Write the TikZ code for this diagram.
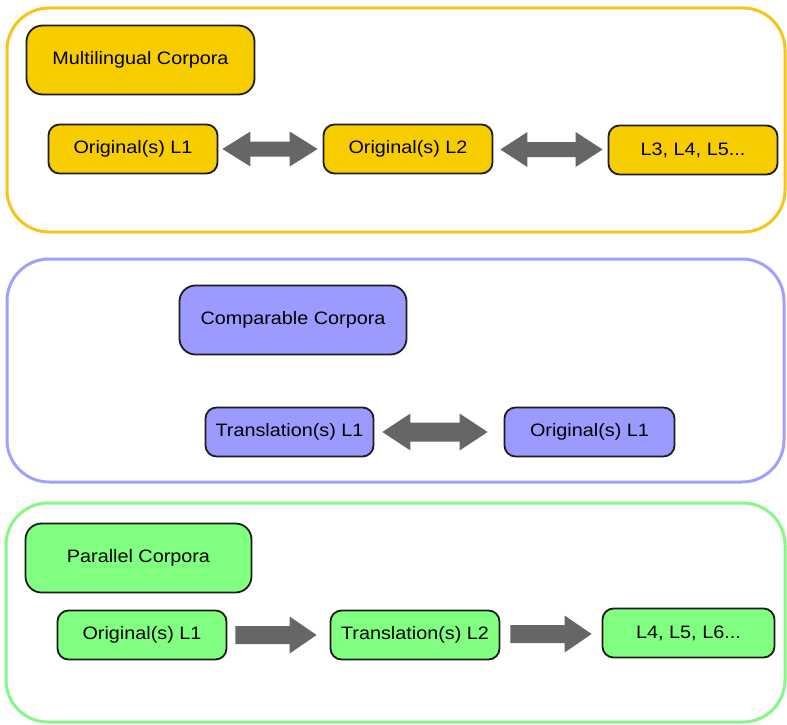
\documentclass[tikz,border=0pt]{standalone}
\usepackage{fontspec}
\setmainfont{Liberation Sans}[FakeStretch=1.1]
\usetikzlibrary{calc}
\definecolor{yfill}{HTML}{F8CD00}
\definecolor{yline}{HTML}{F6C51A}
\definecolor{pfill}{HTML}{9B9BFF}
\definecolor{pline}{HTML}{A0A0FF}
\definecolor{gfill}{HTML}{80FF80}
\definecolor{gline}{HTML}{86F886}
\definecolor{arrgray}{HTML}{666666}
\definecolor{edge}{HTML}{1C1C1C}
\tikzset{
  box/.style={draw=edge, line width=1.8pt, rounded corners=11pt, inner sep=0pt,
    font=\fontsize{18}{22}\selectfont, text=black},
  titlebox/.style={box, rounded corners=16pt},
  container/.style={line width=3pt, rounded corners=42pt},
  arr/.style={fill=arrgray, draw=none}
}
% double arrow between two nodes: #1 left node, #2 right node, #3 left gap, #4 right gap, #5 shaft half, #6 head half, #7 head length
\newcommand{\dblarr}[7]{%
  \fill[arr] let \p1=(#1.east), \p2=(#2.west), \n1={(\y1+\y2)/2} in
    (\x1+#3pt,\n1) -- (\x1+#3pt+#7pt,\n1+#6pt) -- (\x1+#3pt+#7pt,\n1+#5pt)
    -- (\x2-#4pt-#7pt,\n1+#5pt) -- (\x2-#4pt-#7pt,\n1+#6pt) -- (\x2-#4pt,\n1)
    -- (\x2-#4pt-#7pt,\n1-#6pt) -- (\x2-#4pt-#7pt,\n1-#5pt)
    -- (\x1+#3pt+#7pt,\n1-#5pt) -- (\x1+#3pt+#7pt,\n1-#6pt) -- cycle;}
\newcommand{\sglarr}[7]{%
  \fill[arr] let \p1=(#1.east), \p2=(#2.west), \n1={(\y1+\y2)/2} in
    (\x1+#3pt,\n1+#5pt) -- (\x2-#4pt-#7pt,\n1+#5pt) -- (\x2-#4pt-#7pt,\n1+#6pt) -- (\x2-#4pt,\n1)
    -- (\x2-#4pt-#7pt,\n1-#6pt) -- (\x2-#4pt-#7pt,\n1-#5pt) -- (\x1+#3pt,\n1-#5pt) -- cycle;}
\begin{document}
\begin{tikzpicture}[x=1pt,y=-1pt]
\useasboundingbox[fill=white] (0,0) rectangle (787,725);

% ---------- Multilingual ----------
\draw[container, draw=yline] (7,8) rectangle (785,232);
\node[titlebox, fill=yfill, minimum width=228pt, minimum height=69pt] (mt) at (140.5,60) {Multilingual Corpora};
\node[box, fill=yfill, minimum width=169pt, minimum height=49pt] (m1) at (133,149) {Original(s) L1};
\node[box, fill=yfill, minimum width=169pt, minimum height=49pt] (m2) at (408,149) {Original(s) L2};
\node[box, fill=yfill, minimum width=169pt, minimum height=49pt] (m3) at (693,150) {L3, L4, L5...};
\dblarr{m1}{m2}{4}{5}{7.5}{17.5}{28}
\dblarr{m2}{m3}{7}{5}{7.5}{17.5}{27}

% ---------- Comparable ----------
\draw[container, draw=pline] (7,259) rectangle (784,482);
\node[titlebox, fill=pfill, minimum width=227pt, minimum height=69pt] (ct) at (293,320) {Comparable Corpora};
\node[box, fill=pfill, minimum width=168pt, minimum height=49pt] (c1) at (289.5,432) {Translation(s) L1};
\node[box, fill=pfill, minimum width=170pt, minimum height=49pt] (c2) at (589.5,432) {Original(s) L1};
\dblarr{c1}{c2}{8}{16}{9.5}{18.5}{28}

% ---------- Parallel ----------
\draw[container, draw=gline] (6,503) rectangle (785,722);
\node[titlebox, fill=gfill, minimum width=226pt, minimum height=69pt] (pt) at (138.5,558) {Parallel Corpora};
\node[box, fill=gfill, minimum width=169pt, minimum height=49pt] (p1) at (142,635) {Original(s) L1};
\node[box, fill=gfill, minimum width=169pt, minimum height=49pt] (p2) at (415,635) {Translation(s) L2};
\node[box, fill=gfill, minimum width=172pt, minimum height=49pt] (p3) at (688.5,633) {L4, L5, L6...};
\sglarr{p1}{p2}{8}{13}{9}{18.5}{27}
\sglarr{p2}{p3}{10}{10}{9}{18.5}{27}
\end{tikzpicture}
\end{document}
